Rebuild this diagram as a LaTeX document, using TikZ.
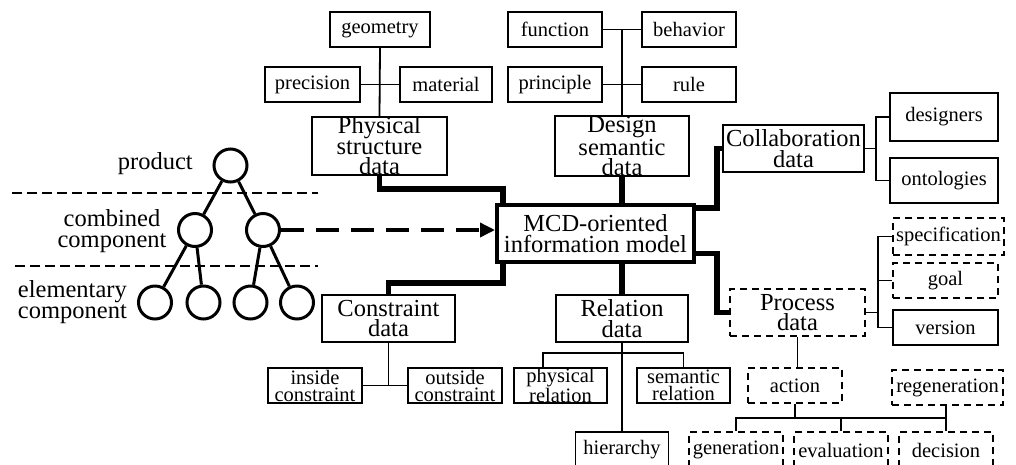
\documentclass[tikz,border=0pt]{standalone}
\usepackage{fontspec}
\setmainfont{Liberation Serif}
\usetikzlibrary{arrows.meta,calc}
\begin{document}
\begin{tikzpicture}[x=1pt,y=-1pt,
  sm/.style={font=\fontsize{20.5}{17}\selectfont},
  bg/.style={font=\fontsize{24.5}{20.5}\selectfont},
  box/.style={draw,line width=1.8pt,inner sep=0pt,align=center},
  dbox/.style={box,dash pattern=on 7pt off 5pt},
  thin/.style={line width=1.8pt},
  thick/.style={line width=5.5pt},
  circ/.style={draw,circle,line width=3pt,minimum size=33pt,inner sep=0pt},
  tree/.style={line width=3pt},
  sep/.style={line width=2pt,dash pattern=on 10pt off 5pt}]
\clip (0,0) rectangle (1016,464);
\fill[white] (0,0) rectangle (1016,464);
% physical branch
\node[box,sm,minimum width=100pt,minimum height=35pt] (geometry) at (380,29.5) {geometry};
\node[box,sm,minimum width=95pt,minimum height=35pt] (precision) at (312.5,84.5) {precision};
\node[box,sm,minimum width=92pt,minimum height=35pt] (material) at (446,84.5) {material};
\node[box,bg,minimum width=135pt,minimum height=58pt] (physical) at (379.5,146) {Physical\\structure\\data};
% design branch
\node[box,sm,minimum width=94pt,minimum height=35pt] (function) at (555,29.5) {function};
\node[box,sm,minimum width=94pt,minimum height=35pt] (behavior) at (689,29.5) {behavior};
\node[box,sm,minimum width=94pt,minimum height=35pt] (principle) at (555,84.5) {principle};
\node[box,sm,minimum width=94pt,minimum height=35pt] (rule) at (689,84.5) {rule};
\node[box,bg,minimum width=134pt,minimum height=58pt] (design) at (622,146) {Design\\semantic\\data};
% collaboration
\node[box,bg,minimum width=141pt,minimum height=47pt] (collab) at (793.5,148.5) {Collaboration\\data};
\node[box,sm,minimum width=108pt,minimum height=48pt] (designers) at (944,117) {designers};
\node[box,sm,minimum width=108pt,minimum height=45pt] (ontologies) at (944,180.5) {ontologies};
% central
\node[box,bg,line width=4pt,minimum width=197pt,minimum height=57pt] (mcd) at (595.5,233.5) {MCD-oriented\\information model};
% constraint
\node[box,bg,minimum width=133pt,minimum height=47pt] (constraint) at (388.5,318.5) {Constraint\\data};
\node[box,sm,minimum width=94pt,minimum height=35pt] (inside) at (315,385.5) {inside\\constraint};
\node[box,sm,minimum width=94pt,minimum height=35pt] (outside) at (455,385.5) {outside\\constraint};
% relation
\node[box,bg,minimum width=132pt,minimum height=47pt] (relation) at (622,318.5) {Relation\\data};
\node[box,sm,minimum width=93pt,minimum height=35pt] (physrel) at (560.5,385.5) {physical\\relation};
\node[box,sm,minimum width=93pt,minimum height=35pt] (semrel) at (683.5,385.5) {semantic\\relation};
\node[box,sm,minimum width=93pt,minimum height=36pt] (hierarchy) at (622,450) {hierarchy};
% process
\node[dbox,bg,minimum width=135pt,minimum height=47pt] (process) at (797.5,312.5) {Process\\data};
\node[dbox,sm,minimum width=111pt,minimum height=37pt] (spec) at (948.5,236.5) {specification};
\node[dbox,sm,minimum width=105pt,minimum height=35pt] (goal) at (945.5,280.5) {goal};
\node[box,sm,minimum width=105pt,minimum height=35pt] (version) at (945.5,327.5) {version};
\node[dbox,sm,minimum width=94pt,minimum height=35pt] (action) at (795,385.5) {action};
\node[dbox,sm,minimum width=111pt,minimum height=35pt] (regen) at (947.5,387.5) {regeneration};
\node[dbox,sm,minimum width=94pt,minimum height=36pt] (generation) at (736,450) {generation};
\node[dbox,sm,minimum width=94pt,minimum height=36pt] (evaluation) at (841,450) {evaluation};
\node[dbox,sm,minimum width=94pt,minimum height=36pt] (decision) at (946,450) {decision};
% tree
\node[circ] (prod) at (230.5,165.5) {};
\node[circ] (combL) at (195,230) {};
\node[circ] (combR) at (263,230) {};
\node[circ] (e1) at (155,302.5) {};
\node[circ] (e2) at (203.5,302.5) {};
\node[circ] (e3) at (250.5,302.5) {};
\node[circ] (e4) at (297,302.5) {};
\node[bg,anchor=east,inner sep=0pt] (lprod) at (193,164) {product};
\node[bg,align=center,inner sep=0pt] (lcomb) at (112,231) {combined\\component};
\node[bg,align=right,anchor=east,inner sep=0pt] (lelem) at (127,302) {elementary\\component};
\coordinate (s1a) at (12,193); \coordinate (s1b) at (318,193);
\coordinate (s2a) at (15,266); \coordinate (s2b) at (318,266);
\draw[sep] (s1a) -- (s1b);
\draw[sep] (s2a) -- (s2b);
\draw[tree] (prod) -- (combL);
\draw[tree] (prod) -- (combR);
\draw[tree] (combL) -- (e1);
\draw[tree] (combL) -- (e2);
\draw[tree] (combR) -- (e3);
\draw[tree] (combR) -- (e4);
\draw[line width=3.5pt,dash pattern=on 23pt off 12pt,-{Triangle[length=15pt,width=14pt]}] (combR) -- (combR -| mcd.west);
% thin connectors
\draw[thin] (geometry.south) -- (physical.north);
\draw[thin] (precision.east) -- (material.west);
\draw[thin] (function.east) -- (behavior.west);
\draw[thin] (principle.east) -- (rule.west);
\draw[thin] (design.north) -- (design.north |- function.east);
\draw[thin] (collab.east) -- ++(11,0) |- (designers.west);
\draw[thin] (collab.east) -- ++(11,0) |- (ontologies.west);
\draw[thin] (process.east) -- ++(12,0) |- (spec.west);
\draw[thin] (process.east) -- ++(12,0) |- (goal.west);
\draw[thin] (process.east) -- ++(12,0) |- (version.west);
\draw[thin] (process.south) -- (process.south |- action.north);
\coordinate (busL) at (736,418);
\coordinate (busR) at (946,418);
\draw[thin] (generation.north) -- (busL) -- (busR) -- (regen.south -| busR);
\draw[thin] (action.south) -- (action.south |- busL);
\draw[thin] (evaluation.north) -- (evaluation.north |- busL);
\draw[thin] (decision.north) -- (busR);
\draw[thin] (constraint.south) -- (constraint.south |- inside.east);
\draw[thin] (inside.east) -- (outside.west);
\draw[thin] (relation.south) -- (hierarchy.north);
\draw[thin] ([xshift=-17.5pt]physrel.north) -- ++(0,-14) -| (semrel.north);
% thick connectors
\draw[thick] (physical.south) -- ++(0,13) -| ([xshift=8pt]mcd.north west);
\draw[thick] (design.south) -- (design.south |- mcd.north);
\draw[thick] ([xshift=8pt]mcd.south west) -- ++(0,19) -| (constraint.north);
\draw[thick] (relation.north |- mcd.south) -- (relation.north);
\draw[thick] ([yshift=25.5pt]mcd.east) -- ++(21,0) |- (collab.west);
\draw[thick] ([yshift=-20pt]mcd.east) -- ++(21,0) |- (process.west);
\end{tikzpicture}
\end{document}
